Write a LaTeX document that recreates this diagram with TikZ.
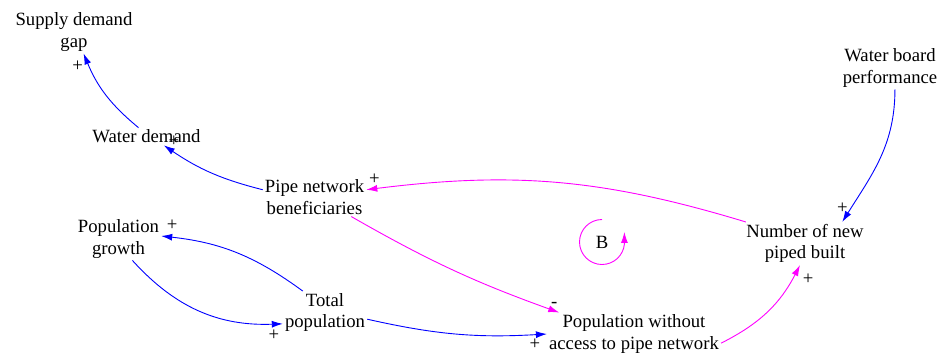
\documentclass[tikz,border=0pt]{standalone}
\usepackage{fontspec}
\setmainfont{Liberation Serif}
\usetikzlibrary{arrows.meta}
\definecolor{linkblue}{RGB}{0,0,255}
\definecolor{linkmag}{RGB}{255,0,255}

\begin{document}
\begin{tikzpicture}[x=1pt, y=1pt,
                var/.style = {
                    align=center, inner sep=2pt,
                    font=\fontsize{18.7}{21.5}\selectfont
                },
                sign/.style = {
                    inner sep=0pt, text=black,
                    font=\fontsize{18.7}{21.5}\selectfont
                },
                link/.style = {
                    draw, -{Latex[length=11pt, width=7pt]},
                    line width=.9pt
                },
                bluelink/.style = {link, color=linkblue},
                maglink/.style = {link, color=linkmag}
                ]
                \useasboundingbox (0,0) rectangle (945,-354);

                \node[var] (gap) at (74,-32) {Supply demand\\gap};
                \node[var] (wdemand) at (146.5,-136.5) {Water demand};
                \node[var] (pipe) at (314.5,-197) {Pipe network\\beneficiaries};
                \node[var] (growth) at (118.5,-239) {Population\\growth};
                \node[var] (total) at (325,-312.5) {Total\\population};
                \node[var] (without) at (634,-334) {Population without\\access to pipe network};
                \node[var] (newpiped) at (805,-243.5) {Number of new\\piped built};
                \node[var] (board) at (890,-68) {Water board\\performance};
                \node[var] (loopB) at (602,-242) {B};

                \path[bluelink] (wdemand.132) to[bend left=14] node[sign, pos=1, xshift=-6pt, yshift=-13pt] {+} (gap.-66);
                \path[bluelink] (pipe.172) to[bend left=10] node[sign, pos=1, xshift=10pt, yshift=4pt] {+} (wdemand.-27);
                \path[maglink] (newpiped.160) to[bend right=12] node[sign, pos=1, xshift=8pt, yshift=11pt] {+} (pipe.8);
                \path[maglink] (pipe.-28) to[bend right=5] node[sign, pos=1, xshift=-5pt, yshift=8pt] {-} (without.164);
                \path[maglink] (without.-6) to[bend right=18] node[sign, pos=1, xshift=8pt, yshift=-14pt] {+} (newpiped.257);
                \path[bluelink] (board.-77) to[out=-90, in=58] node[sign, pos=1, xshift=0pt, yshift=14pt] {+} (newpiped.30);
                \path[bluelink] (total.136) to[bend right=15] node[sign, pos=1, xshift=11pt, yshift=11pt] {+} (growth.4);
                \path[bluelink] (growth.-57) to[bend right=25] node[sign, pos=1, xshift=-9pt, yshift=-11pt] {+} (total.195);
                \path[bluelink] (total.-9) to[bend right=8] node[sign, pos=1, xshift=-12pt, yshift=-10pt] {+} (without.west);

                % loop marker
                \path[maglink] ([yshift=22.5pt]loopB.center) arc[start angle=90, end angle=355, radius=22.5pt] -- ++(0,12pt);
            \end{tikzpicture}
\end{document}
